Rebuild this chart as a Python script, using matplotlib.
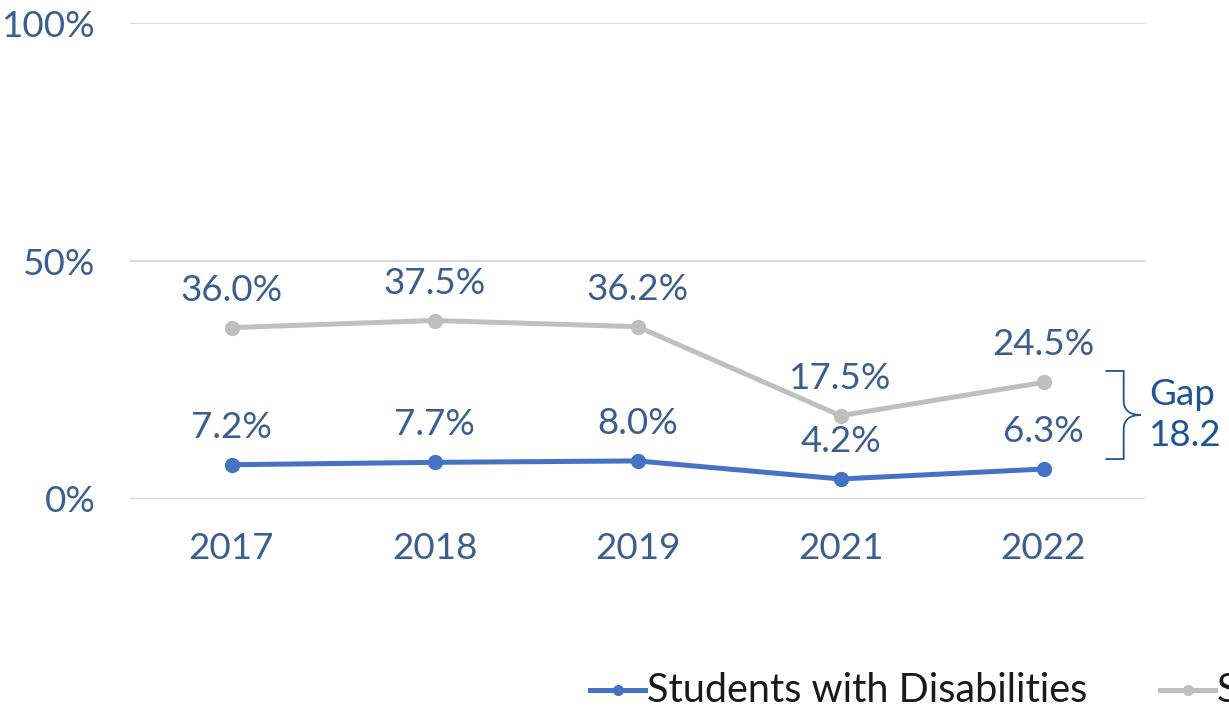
import matplotlib.pyplot as plt
from matplotlib.lines import Line2D
from matplotlib.path import Path
from matplotlib.patches import PathPatch

plt.rcParams['font.family'] = ['Lato', 'DejaVu Sans']

years = ["2017", "2018", "2019", "2021", "2022"]
swd = [7.2, 7.7, 8.0, 4.2, 6.3]
swod = [36.0, 37.5, 36.2, 17.5, 24.5]
legend_labels = ["Students with Disabilities", "Students without Disabilities"]

text_color = "#3A5F8E"
blue = "#4472C4"
grey = "#BFBFBF"
gap_color = "#1F5493"
fs = 26.5

fig = plt.figure(figsize=(12.29, 7.14), dpi=100)
ax = fig.add_axes([130 / 1229, 215 / 714, 1015 / 1229, 476 / 714])

x = list(range(len(years)))
ax.plot(x, swod, color=grey, lw=3.6, marker="o", ms=10, solid_capstyle="round", zorder=3)
ax.plot(x, swd, color=blue, lw=3.6, marker="o", ms=10, solid_capstyle="round", zorder=3)

for xi, v in zip(x, swod):
    ax.annotate(f"{v:.1f}%", (xi, v), xytext=(0, 27), textcoords="offset points",
                ha="center", va="center", fontsize=fs, color=text_color)
for xi, v in zip(x, swd):
    ax.annotate(f"{v:.1f}%", (xi, v), xytext=(0, 27), textcoords="offset points",
                ha="center", va="center", fontsize=fs, color=text_color)

ax.set_xlim(-0.5, len(years) - 0.5)
ax.set_ylim(0, 100)
ax.set_yticks([0, 50, 100])
ax.set_yticklabels(["0%", "50%", "100%"])
ax.set_xticks(x)
ax.set_xticklabels(years)
ax.tick_params(axis="both", length=0, labelsize=fs, labelcolor=text_color)
ax.tick_params(axis="x", pad=24)
ax.tick_params(axis="y", pad=25)
ax.grid(axis="y", color="#D9D9D9", lw=1.5)
ax.set_axisbelow(True)
for s in ax.spines.values():
    s.set_visible(False)

# gap bracket
gap = swod[-1] - swd[-1]
top = swod[-1] + 2.4
bot = swd[-1] + 2.1
mid = (top + bot) / 2
trans = ax.get_yaxis_transform()
x0, x1, x2 = 1.0 - 0.039, 1.0 - 0.021, 1.0 - 0.004
verts = [(x0, top), (x1, top), (x1, top), (x1, mid + 3),
         (x1, mid), (x2, mid), (x1, mid), (x1, mid - 3),
         (x1, bot), (x1, bot), (x0, bot)]
codes = [Path.MOVETO, Path.CURVE3, Path.CURVE3, Path.LINETO,
         Path.CURVE3, Path.CURVE3, Path.CURVE3, Path.LINETO,
         Path.CURVE3, Path.CURVE3, Path.LINETO]
ax.add_patch(PathPatch(Path(verts, codes), transform=trans, fill=False,
                       ec=gap_color, lw=1.3, clip_on=False))
ax.text(1.0 + 0.004, mid, f"Gap\n{gap:.1f}", transform=trans, ha="left", va="center",
        fontsize=fs, color=gap_color, linespacing=1.3)

# legend (clipped at the right edge like the reference)
ly = 1 - 690 / 714
for i, (lab, col) in enumerate(zip(legend_labels, [blue, grey])):
    lx = [590 / 1229, 1160 / 1229][i]
    fig.add_artist(Line2D([lx, lx + 55 / 1229], [ly, ly], color=col, lw=3.6,
                          transform=fig.transFigure))
    fig.add_artist(Line2D([lx + 27.5 / 1229], [ly], color=col, marker="o", ms=7,
                          transform=fig.transFigure))
    fig.text(lx + 57 / 1229, ly, lab, fontsize=28.5, color="#1A1A1A", va="center", ha="left")

fig.savefig("out.png", dpi=100)
